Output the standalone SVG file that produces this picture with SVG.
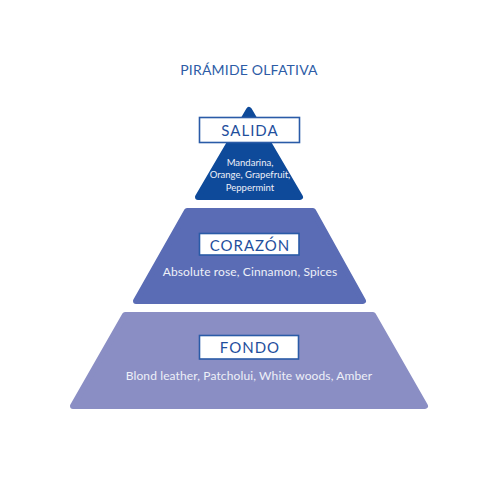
<svg xmlns="http://www.w3.org/2000/svg" width="500" height="500" viewBox="0 0 500 500">
<style>
.title{font-family:Lato,"Liberation Sans",sans-serif;font-size:14px;fill:#2d5ca6;letter-spacing:0.2px;text-anchor:middle}
.box{fill:#ffffff;stroke:#2a5ba7;stroke-width:1.6}
.lbl{font-family:Lato,"Liberation Sans",sans-serif;font-size:15px;fill:#1f4f9d;letter-spacing:1px;text-anchor:middle}
.note{font-family:Lato,"Liberation Sans",sans-serif;fill:#eef0f8;text-anchor:middle}
.big{font-size:12px;letter-spacing:0.12px}
.tier{stroke-linejoin:round;stroke-width:6}
</style>
<rect width="500" height="500" fill="#ffffff"/>
<text class="title" x="249" y="75">PIRÁMIDE OLFATIVA</text>
<g id="fondo">
<polygon class="tier" points="125,315 373,315 425,406 73,406" fill="#8a8ec4" stroke="#8a8ec4"/>
<rect class="box" x="199.5" y="335.5" width="99" height="23.5"/>
<text class="lbl" x="250" y="352.5">FONDO</text>
<text class="note big" x="249" y="380">Blond leather, Patcholui, White woods, Amber</text>
</g>
<g id="corazon">
<polygon class="tier" points="187,211 313,211 363,301 136,301" fill="#5a6cb5" stroke="#5a6cb5"/>
<rect class="box" x="199.5" y="233.5" width="99.5" height="21.5"/>
<text class="lbl" x="250" y="250.5">CORAZÓN</text>
<text class="note big" x="250" y="276">Absolute rose, Cinnamon, Spices</text>
</g>
<g id="salida">
<polygon class="tier" points="249,110 300,197 198,197" fill="#0e4a9a" stroke="#0e4a9a"/>
<rect class="box" x="199.5" y="117.5" width="100" height="25"/>
<text class="lbl" x="250" y="135.5">SALIDA</text>
<text class="note" x="250" y="166" font-size="9.5">Mandarina,</text>
<text class="note" x="250" y="178" font-size="9.5">Orange, Grapefruit,</text>
<text class="note" x="250" y="190.5" font-size="9.5">Peppermint</text>
</g>
<g id="connectors"></g>
</svg>
